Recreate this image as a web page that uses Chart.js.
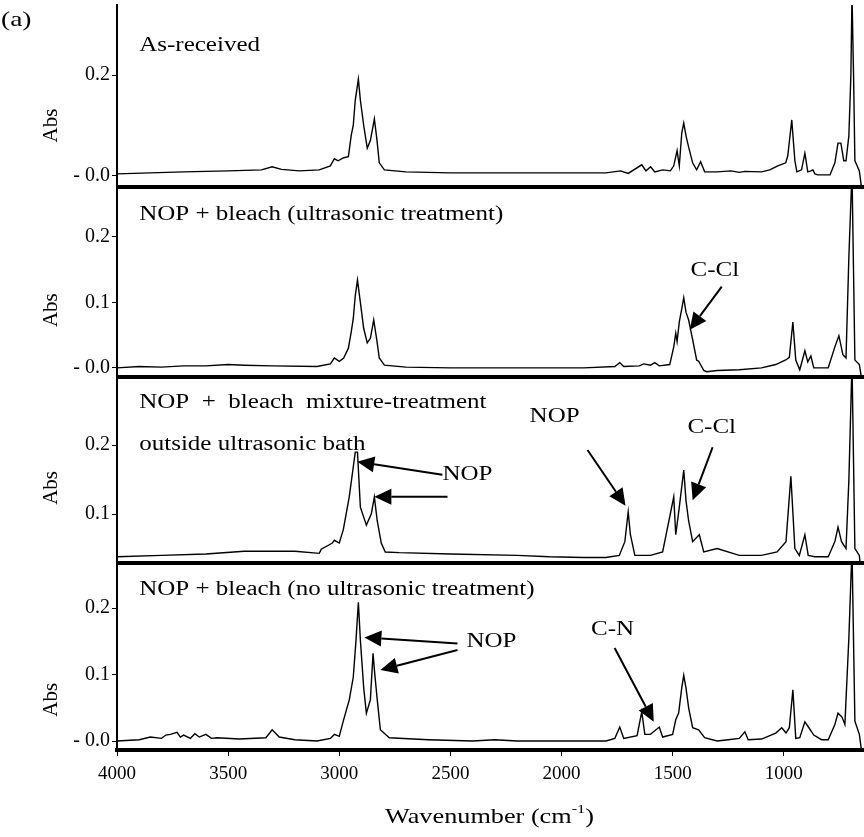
<!DOCTYPE html>
<html>
<head>
<meta charset="utf-8">
<script src="https://cdn.jsdelivr.net/npm/chart.js@4.4.1/dist/chart.umd.min.js"></script>
<style>
  html, body { margin: 0; padding: 0; background: #fff; }
</style>
</head>
<body>
<canvas id="myChart" width="864" height="837"></canvas>
<script>
// x axis ticks (wavenumber, cm-1)
const xTicks = [4000, 3500, 3000, 2500, 2000, 1500, 1000];

// panel 1: as-received
const wn1 = [4000, 3850, 3700, 3500, 3350, 3302, 3260, 3180, 3090, 3040, 3022, 3005, 2980, 2959, 2946, 2937, 2928, 2914, 2905, 2890, 2874, 2860, 2842, 2830, 2820, 2797, 2700, 2500, 2300, 2100, 1900, 1800, 1734, 1700, 1639, 1620, 1599, 1580, 1545, 1510, 1495, 1480, 1470, 1459, 1450, 1440, 1428, 1410, 1392, 1374, 1356, 1300, 1238, 1200, 1175, 1100, 1063, 1027, 991, 982, 964, 950, 941, 920, 905, 892, 878, 869, 860, 847, 792, 770, 756, 743, 730, 720, 707, 698, 693, 686, 680, 670, 660, 648];
const abs1 = [0.004, 0.006, 0.008, 0.010, 0.012, 0.018, 0.013, 0.010, 0.012, 0.020, 0.034, 0.030, 0.036, 0.038, 0.081, 0.100, 0.150, 0.192, 0.150, 0.100, 0.055, 0.070, 0.113, 0.070, 0.026, 0.012, 0.008, 0.006, 0.006, 0.006, 0.006, 0.006, 0.010, 0.005, 0.022, 0.010, 0.018, 0.008, 0.012, 0.010, 0.020, 0.050, 0.020, 0.085, 0.105, 0.080, 0.057, 0.026, 0.012, 0.028, 0.008, 0.008, 0.010, 0.007, 0.009, 0.008, 0.012, 0.020, 0.026, 0.040, 0.111, 0.030, 0.008, 0.012, 0.045, 0.008, 0.010, 0.012, 0.004, 0.002, 0.002, 0.026, 0.065, 0.065, 0.030, 0.030, 0.080, 0.200, 0.360, 0.200, 0.030, 0.020, 0.010, -0.030];

// panel 2: NOP + bleach (ultrasonic)
const wn2 = [4000, 3900, 3800, 3700, 3600, 3500, 3428, 3300, 3100, 3040, 3022, 3000, 2980, 2959, 2946, 2937, 2928, 2918, 2905, 2890, 2874, 2860, 2845, 2830, 2820, 2797, 2700, 2500, 2300, 2100, 1900, 1760, 1738, 1720, 1650, 1630, 1600, 1580, 1560, 1513, 1495, 1486, 1480, 1470, 1459, 1450, 1440, 1428, 1410, 1392, 1383, 1360, 1347, 1300, 1200, 1100, 1036, 991, 975, 959, 946, 928, 905, 892, 878, 865, 800, 770, 752, 734, 720, 707, 693, 680, 660, 648];
const abs2 = [0.000, 0.002, 0.001, 0.003, 0.003, 0.005, 0.004, 0.003, 0.002, 0.006, 0.015, 0.010, 0.015, 0.030, 0.055, 0.075, 0.110, 0.134, 0.100, 0.060, 0.038, 0.045, 0.073, 0.040, 0.015, 0.004, 0.001, 0.000, 0.000, 0.000, 0.000, 0.002, 0.008, 0.002, 0.003, 0.006, 0.004, 0.008, 0.003, 0.005, 0.032, 0.053, 0.040, 0.070, 0.090, 0.107, 0.085, 0.073, 0.043, 0.012, 0.010, -0.004, -0.006, -0.004, -0.003, 0.000, 0.005, 0.012, 0.016, 0.070, 0.012, -0.003, 0.026, 0.009, 0.018, 0.000, 0.000, 0.032, 0.049, 0.020, 0.015, 0.170, 0.300, 0.012, 0.005, -0.020];

// panel 3: NOP + bleach mixture outside bath
const wn3 = [4000, 3800, 3600, 3428, 3200, 3090, 3081, 3031, 3022, 3000, 2982, 2955, 2928, 2918, 2905, 2878, 2856, 2842, 2829, 2811, 2793, 2730, 2500, 2200, 2054, 1900, 1800, 1740, 1715, 1700, 1690, 1670, 1600, 1545, 1495, 1486, 1470, 1450, 1440, 1428, 1410, 1380, 1360, 1300, 1200, 1100, 1030, 990, 968, 950, 930, 905, 890, 860, 800, 770, 756, 740, 720, 707, 693, 680, 660, 648];
const abs3 = [0.038, 0.040, 0.042, 0.046, 0.046, 0.043, 0.049, 0.058, 0.062, 0.058, 0.077, 0.125, 0.190, 0.190, 0.110, 0.084, 0.100, 0.125, 0.090, 0.058, 0.045, 0.044, 0.042, 0.040, 0.038, 0.037, 0.037, 0.040, 0.060, 0.103, 0.070, 0.040, 0.040, 0.045, 0.125, 0.070, 0.110, 0.164, 0.120, 0.090, 0.060, 0.070, 0.045, 0.050, 0.040, 0.040, 0.045, 0.060, 0.155, 0.050, 0.040, 0.070, 0.040, 0.038, 0.038, 0.060, 0.081, 0.060, 0.050, 0.150, 0.320, 0.050, 0.040, 0.000];

// panel 4: NOP + bleach (no ultrasonic)
const wn4 = [4000, 3900, 3850, 3800, 3780, 3760, 3730, 3715, 3700, 3670, 3650, 3630, 3600, 3575, 3550, 3450, 3330, 3302, 3270, 3200, 3100, 3040, 3022, 3000, 2982, 2955, 2937, 2925, 2914, 2905, 2890, 2878, 2860, 2848, 2840, 2829, 2815, 2775, 2600, 2400, 2300, 2200, 2000, 1800, 1760, 1738, 1720, 1660, 1639, 1625, 1600, 1560, 1545, 1500, 1486, 1473, 1459, 1450, 1440, 1428, 1410, 1383, 1356, 1300, 1250, 1200, 1175, 1160, 1100, 1036, 1009, 990, 975, 959, 946, 928, 905, 887, 865, 830, 800, 770, 756, 738, 725, 707, 693, 680, 660, 648];
const abs4 = [0.000, 0.002, 0.006, 0.004, 0.009, 0.010, 0.013, 0.006, 0.009, 0.004, 0.011, 0.006, 0.010, 0.004, 0.005, 0.003, 0.005, 0.017, 0.006, 0.002, 0.000, 0.004, 0.010, 0.007, 0.030, 0.062, 0.096, 0.150, 0.209, 0.152, 0.080, 0.042, 0.062, 0.132, 0.100, 0.062, 0.017, 0.005, 0.002, 0.000, 0.002, 0.000, 0.000, 0.000, 0.004, 0.021, 0.004, 0.008, 0.044, 0.010, 0.010, 0.021, 0.006, 0.010, 0.032, 0.042, 0.080, 0.099, 0.080, 0.050, 0.020, 0.017, 0.005, 0.000, 0.002, 0.004, 0.014, 0.002, 0.003, 0.012, 0.020, 0.012, 0.020, 0.077, 0.004, 0.005, 0.029, 0.020, 0.009, 0.002, 0.002, 0.025, 0.042, 0.036, 0.025, 0.156, 0.290, 0.030, 0.010, -0.020];

// y range and labelled ticks of each panel
const yMin = [-0.022, -0.014, 0.029, -0.0135];
const yMax = [0.339, 0.276, 0.299, 0.268];
const yTicks = [[0, 0.2], [0, 0.1, 0.2], [0.1, 0.2], [0, 0.1, 0.2]];
const panelHeights = [182, 190, 186, 187];

const allWn = [wn1, wn2, wn3, wn4];
const allAbs = [abs1, abs2, abs3, abs4];

// texts inside the panels (wavenumber, absorbance)
const notes = [
  {panel: 0, text: 'As-received', wn: 3900, abs: 0.259, align: 'left'},
  {panel: 1, text: 'NOP + bleach (ultrasonic treatment)', wn: 3900, abs: 0.234, align: 'left'},
  {panel: 1, text: 'C-Cl', wn: 1310, abs: 0.148, align: 'center'},
  {panel: 2, text: 'NOP  +  bleach  mixture-treatment', wn: 3900, abs: 0.262, align: 'left'},
  {panel: 2, text: 'outside ultrasonic bath', wn: 3900, abs: 0.200, align: 'left'},
  {panel: 2, text: 'NOP', wn: 2031, abs: 0.242, align: 'center'},
  {panel: 2, text: 'C-Cl', wn: 1324, abs: 0.225, align: 'center'},
  {panel: 2, text: 'NOP', wn: 2423, abs: 0.157, align: 'center'},
  {panel: 3, text: 'NOP + bleach (no ultrasonic treatment)', wn: 3900, abs: 0.227, align: 'left'},
  {panel: 3, text: 'NOP', wn: 2315, abs: 0.149, align: 'center'},
  {panel: 3, text: 'C-N', wn: 1770, abs: 0.168, align: 'center'}
];

// arrows: [fromWn, fromAbs, toWn, toAbs]
const arrows = [
  {panel: 1, pts: [1279, 0.124, 1423, 0.058]},
  {panel: 2, pts: [1883, 0.193, 1712, 0.112]},
  {panel: 2, pts: [1320, 0.197, 1410, 0.120]},
  {panel: 2, pts: [2536, 0.157, 2919, 0.176]},
  {panel: 2, pts: [2513, 0.125, 2842, 0.125]},
  {panel: 3, pts: [2468, 0.147, 2887, 0.156]},
  {panel: 3, pts: [2468, 0.137, 2815, 0.107]},
  {panel: 3, pts: [1761, 0.140, 1585, 0.029]}
];

const absTitleAt = [0.10, 0.088, 0.138, 0.062];

const serif = '"Liberation Serif", "Times New Roman", serif';
const textStretch = 1.25;
const panelIds = ['y1', 'y2', 'y3', 'y4'];

// text slightly widened, like the scanned figure
function wideText(ctx, text, x, y, align) {
    const w = ctx.measureText(text).width * textStretch;
    let left = x;
    if (align === 'center') left = x - w / 2;
    if (align === 'right') left = x - w;
    ctx.save();
    ctx.textAlign = 'left';
    ctx.translate(left, y);
    ctx.scale(textStretch, 1);
    ctx.fillText(text, 0, 0);
    ctx.restore();
    return w;
}

function drawArrow(ctx, x1, y1, x2, y2) {
    const ang = Math.atan2(y2 - y1, x2 - x1);
    const head = 17, half = 8;
    const bx = x2 - head * Math.cos(ang), by = y2 - head * Math.sin(ang);
    ctx.beginPath();
    ctx.moveTo(x1, y1);
    ctx.lineTo(bx, by);
    ctx.stroke();
    ctx.beginPath();
    ctx.moveTo(x2, y2);
    ctx.lineTo(bx + half * Math.sin(ang), by - half * Math.cos(ang));
    ctx.lineTo(bx - half * Math.sin(ang), by + half * Math.cos(ang));
    ctx.closePath();
    ctx.fill();
}

// keep each spectrum inside its own panel
const panelClip = {
    id: 'panelClip',
    beforeDatasetDraw(chart, args) {
        const ys = chart.scales[args.meta.yAxisID];
        const area = chart.chartArea;
        chart.ctx.save();
        chart.ctx.beginPath();
        chart.ctx.rect(area.left, ys.top, area.right - area.left, ys.bottom - ys.top);
        chart.ctx.clip();
    },
    afterDatasetDraw(chart) {
        chart.ctx.restore();
    }
};

const decorations = {
    id: 'decorations',
    afterDatasetsDraw(chart) {
        const ctx = chart.ctx;
        const area = chart.chartArea;
        const xs = chart.scales.x;
        ctx.save();
        ctx.fillStyle = '#000';
        ctx.strokeStyle = '#000';

        // thick separators between panels
        ctx.lineWidth = 4;
        panelIds.forEach(id => {
            const ys = chart.scales[id];
            ctx.beginPath();
            ctx.moveTo(area.left, ys.bottom);
            ctx.lineTo(area.right + 2, ys.bottom);
            ctx.stroke();
        });

        // panel texts
        ctx.textBaseline = 'middle';
        notes.forEach(n => {
            const ys = chart.scales[panelIds[n.panel]];
            ctx.font = '20px ' + serif;
            wideText(ctx, n.text, xs.getPixelForValue(n.wn), ys.getPixelForValue(n.abs), n.align);
        });

        // arrows
        ctx.lineWidth = 2;
        arrows.forEach(a => {
            const ys = chart.scales[panelIds[a.panel]];
            drawArrow(ctx, xs.getPixelForValue(a.pts[0]), ys.getPixelForValue(a.pts[1]),
                xs.getPixelForValue(a.pts[2]), ys.getPixelForValue(a.pts[3]));
        });

        // "Abs" axis titles
        ctx.font = '21px ' + serif;
        ctx.textAlign = 'center';
        panelIds.forEach((id, i) => {
            const ys = chart.scales[id];
            ctx.save();
            ctx.translate(51, ys.getPixelForValue(absTitleAt[i]));
            ctx.rotate(-Math.PI / 2);
            ctx.fillText('Abs', 0, 0);
            ctx.restore();
        });

        // x axis title with superscript
        const cx = (area.left + area.right) / 2;
        const main = 'Wavenumber (cm';
        ctx.textBaseline = 'alphabetic';
        ctx.font = '21px ' + serif;
        const w1 = ctx.measureText(main).width * textStretch;
        const w3 = ctx.measureText(')').width * textStretch;
        ctx.font = '13px ' + serif;
        const w2 = ctx.measureText('-1').width * textStretch;
        const x0 = cx - (w1 + w2 + w3) / 2;
        ctx.font = '21px ' + serif;
        wideText(ctx, main, x0, 823, 'left');
        ctx.font = '13px ' + serif;
        wideText(ctx, '-1', x0 + w1, 813, 'left');
        ctx.font = '21px ' + serif;
        wideText(ctx, ')', x0 + w1 + w2, 823, 'left');

        // panel label
        ctx.font = '22px ' + serif;
        wideText(ctx, '(a)', 1, 26, 'left');
        ctx.restore();
    }
};

function panelAxis(i) {
    return {
        type: 'linear',
        position: 'left',
        stack: 'panels',
        stackWeight: panelHeights[i],
        weight: 4 - i,
        min: yMin[i],
        max: yMax[i],
        afterBuildTicks: s => { s.ticks = yTicks[i].map(v => ({value: v})); },
        afterFit: s => { s.width = 117; s.paddingTop = 0; s.paddingBottom = 0; },
        ticks: {
            color: '#000',
            padding: 2,
            font: {family: serif, size: 20},
            callback: v => v === 0 ? '- 0.0' : v.toFixed(1)
        },
        grid: {drawOnChartArea: false, color: '#000', tickLength: 5},
        border: {color: '#000', width: 2}
    };
}

const datasets = allWn.map((wn, i) => ({
    label: 'panel ' + (i + 1),
    data: wn.map((w, k) => ({x: w, y: allAbs[i][k]})),
    yAxisID: panelIds[i],
    borderColor: '#000',
    borderWidth: 1.4,
    pointRadius: 0,
    tension: 0,
    fill: false
}));

const scales = {
    x: {
        type: 'linear',
        reverse: true,
        min: 648,
        max: 4000,
        afterBuildTicks: s => { s.ticks = xTicks.map(v => ({value: v})); },
        afterFit: s => { s.height = 87; s.paddingLeft = 0; s.paddingRight = 0; },
        ticks: {
            color: '#000',
            padding: 7,
            maxRotation: 0,
            font: {family: serif, size: 19},
            callback: v => String(v)
        },
        grid: {drawOnChartArea: false, color: '#000', tickLength: 6},
        border: {color: '#000', width: 4}
    }
};
panelIds.forEach((id, i) => { scales[id] = panelAxis(i); });

new Chart(document.getElementById('myChart'), {
    type: 'line',
    data: {datasets},
    options: {
        responsive: false,
        animation: false,
        layout: {padding: {top: 5, right: 2, left: 0, bottom: 0}},
        plugins: {legend: {display: false}, tooltip: {enabled: false}},
        scales
    },
    plugins: [panelClip, decorations]
});
</script>
</body>
</html>
